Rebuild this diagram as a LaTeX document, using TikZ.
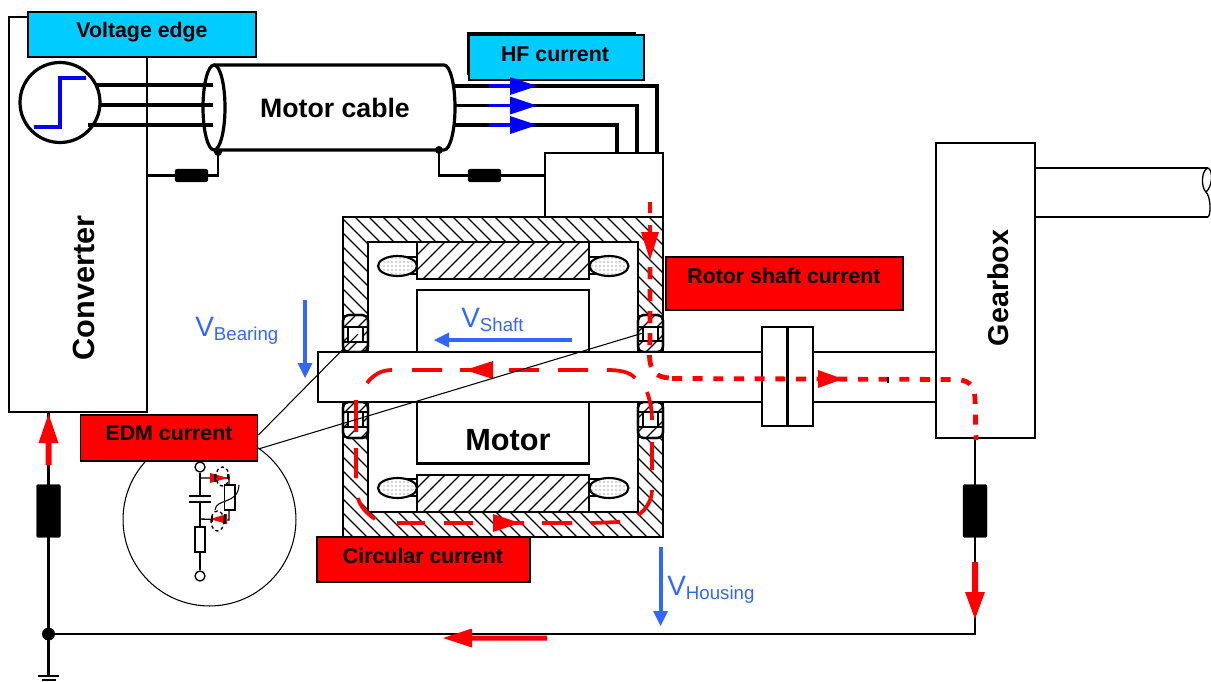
\documentclass[tikz,border=0pt]{standalone}
\usepackage{fontspec}
\setmainfont{Liberation Sans}
\usetikzlibrary{patterns,arrows.meta,calc}
\definecolor{cy}{HTML}{00CCFF}
\definecolor{vb}{HTML}{3366FF}
\newcommand{\fs}[1]{\fontsize{#1}{#1}\selectfont}
\newcommand{\vlabel}[2]{{\fs{21}V\raisebox{#1}{\fs{14}#2}}}
\tikzset{
 x=0.75pt,y=-0.75pt,
 thin box/.style={draw,line width=1.4pt,fill=white,inner sep=0pt},
 label box/.style={draw,line width=1.4pt,inner sep=0pt},
 boxtext/.style={font=\bfseries\fs{16},inner sep=0pt},
 hatchline/.style={line width=1pt},
 outline/.style={line width=1.6pt},
 wire/.style={line width=1.7pt},
 cablewire/.style={line width=2.4pt},
 res/.style={fill=black,rounded corners=1.5pt,draw=black,line width=0.3pt,inner sep=0pt},
 redwire/.style={red,line width=3.6pt},
 loopred/.style={red,line width=2.8pt},
 rotorred/.style={redwire,dash pattern=on 9pt off 7.5pt},
 dottedred/.style={redwire,dash pattern=on 7.5pt off 8pt},
 volt/.style={vb,line width=3pt},
 bigtext/.style={font=\bfseries\fs{20},inner sep=0pt},
 vtext/.style={vb,inner sep=0pt,anchor=base west},
 thinline/.style={line width=0.8pt},
}
\newcommand{\bearing}[6]{% x, top, bottom, square top, square bottom, hatch shift
 \draw[outline,fill=white,rounded corners=4pt] (#1,#2) rectangle (#1+25,#3);
 \begin{scope}
 \clip[rounded corners=4pt] (#1,#2) rectangle (#1+25,#3);
 \foreach \i in {-24,-10,...,60}{\draw[hatchline] (#1+\i+#6,#3) -- ++(36,-36);}
 \draw[hatchline] (#1,#4) -- (#1+25,#4) (#1,#5) -- (#1+25,#5);
 \end{scope}
 \draw[outline,fill=white] (#1+5,#4) rectangle (#1+20,#5);
 \draw[outline,rounded corners=4pt] (#1,#2) rectangle (#1+25,#3);
}
\begin{document}
\begin{tikzpicture}
\useasboundingbox (0,0) rectangle (1211,682);
% converter
\node[thin box,minimum width=103.5pt,minimum height=296pt] (conv) at (78,214.5) {};
\node[bigtext,font=\bfseries\fs{23},rotate=90] (convt) at (84,288) {Converter};
\node[label box,fill=cy,minimum width=171pt,minimum height=33.7pt] (ve) at (142,34.5) {};
\node[boxtext] (vet) at (142,32) {Voltage edge};
% cable
\coordinate (ct) at (214,65); \coordinate (cb) at (214,150);
\coordinate (ctr) at (444,65); \coordinate (cbr) at (444,150);
\draw[cablewire] (ct) -- (ctr) arc[start angle=90,end angle=-90,x radius=11,y radius=-42.5] (cbr) -- (cb);
\draw[cablewire,fill=white] (214,107.5) ellipse[x radius=11,y radius=42.5];
\node[bigtext] (cablet) at (335,108) {Motor cable};
% source
\node[circle,draw,line width=2.4pt,fill=white,minimum size=60pt,inner sep=0pt] (src) at (60,102.5) {};
\draw[blue,line width=2.6pt] (34,127) -- (60,127) -- (60,78) -- (86,78);
\draw[cablewire] (97,85) -- (213,85) (100,105) -- (213,105) (88,125) -- (213,125);
\draw[cablewire] (455,86) -- (657,86) -- (657,153);
\draw[cablewire] (455,105.5) -- (637,105.5) -- (637,153);
\draw[cablewire] (455,125) -- (617,125) -- (617,153);
% HF box
\draw[line width=1.2pt] (468,75) -- (468,33) -- (636,33);
\node[label box,fill=cy,minimum width=131.3pt,minimum height=33.7pt] (hf) at (556.5,57.5) {};
\node[boxtext] (hft) at (555,54) {HF current};
\foreach \y in {86,105.5,125}{
 \draw[blue,line width=2.6pt] (489,\y) -- (512,\y);
 \fill[blue] (510,\y-9) -- (537,\y) -- (510,\y+9) -- cycle;
}
% terminal box
\node[thin box,minimum width=88.5pt,minimum height=48pt] (tb) at (604,185) {};
% shield earthing
\fill (218,152) circle[radius=4]; \fill (439,150) circle[radius=4];
\coordinate (s1) at (218,175.5); \coordinate (s2) at (439,175.5);
\draw[wire] (218,152) -- (s1) -- (conv.east |- s1);
\draw[wire] (439,150) -- (s2) -- (tb.west |- s2);
\node[res,minimum width=24.5pt,minimum height=9.5pt] (r1) at (191.5,175.5) {};
\node[res,minimum width=24.5pt,minimum height=9.5pt] (r2) at (484.5,175.5) {};
% housing
\begin{scope}
\clip (343,217) rectangle (663,537);
\foreach \i in {-190,-176,...,690}{\draw[hatchline] (\i,190) -- ++(360,360);}
\end{scope}
\draw[outline,fill=white] (368,242) rectangle (638,512);
\draw[outline] (343,217) rectangle (663,537);
% windings
\foreach \cx/\cy/\n in {397.5/266/a,609/266/b,397.5/488/c,609/488/d}{
 \ifdim \cx pt<500pt
  \draw[outline] (\cx+6,\cy-9) -- (417,\cy-9) (\cx+6,\cy+8) -- (417,\cy+8);
 \else
  \draw[outline] (\cx-6,\cy-9) -- (589,\cy-9) (\cx-6,\cy+8) -- (589,\cy+8);
 \fi
 \draw[outline,fill=white] (\cx,\cy) ellipse[x radius=19.5,y radius=10];
 \fill[pattern=dots,pattern color=black!70] (\cx,\cy) ellipse[x radius=18.5,y radius=9];
}
% stators
\foreach \a/\b in {242/279,475/512}{
 \begin{scope}
 \clip (417,\a) rectangle (589,\b);
 \foreach \i in {420,435,...,660}{\draw[hatchline] (\i,\a-5) -- ++(-60,60);}
 \end{scope}
 \draw[outline] (417,\a) rectangle (589,\b);
}
% rotor
\node[draw,line width=1.6pt,fill=white,minimum width=129pt,minimum height=46.5pt,inner sep=0pt] (rotA) at (503,321) {};
\node[draw,line width=1.6pt,fill=white,minimum width=129pt,minimum height=46.5pt,inner sep=0pt] (rotB) at (503,432.5) {};
\node[bigtext,font=\bfseries\fs{23}] (motort) at (508,440) {Motor};
% bearings
\bearing{343}{315}{352}{327}{342}{0}
\bearing{638}{315}{352}{327}{341}{4}
\bearing{343}{402}{438}{412}{427}{0}
\bearing{638}{402}{438}{412}{427}{4}
% shaft
\fill[white] (318,352) rectangle (762,402);
\draw[outline] (762,352) -- (318,352) -- (318,402) -- (762,402);
\draw[outline] (813,352) -- (936,352) (813,402) -- (936,402);
\node[thin box,minimum width=18.7pt,minimum height=74.5pt] (cpa) at (774.5,376.5) {};
\node[thin box,minimum width=18.7pt,minimum height=74.5pt] (cpb) at (800.5,376.5) {};
\draw[line width=2.2pt] (787,327) -- (787,426);
% gearbox
\draw[outline] (1035,168) -- (1208,168) (1035,217) -- (1208,217);
\draw[line width=1pt] (1208,168) .. controls (1201,170) and (1201,188) .. (1206,192)
  .. controls (1211,197) and (1211,215) .. (1208,217);
\draw[line width=1pt] (1208,168) .. controls (1213,170) and (1213,186) .. (1206,192);
\node[thin box,minimum width=74.3pt,minimum height=221.3pt] (gb) at (985.5,290.5) {};
\node[bigtext,font=\bfseries\fs{21.5},rotate=90] (gbt) at (998,288) {Gearbox};
% ground wiring
\coordinate (gnd) at (48.5,634);
\coordinate (gndend) at (48.5,676);
\coordinate (gbw) at (975,634);
\draw[wire] (conv.south -| gnd) -- (gndend);
\draw[wire] (gnd) -- (gbw) -- (gb.south -| gbw);
\fill (gnd) circle[radius=6.5];
\draw[wire] (38,676) -- (59,676) (42,680) -- (56,680);
\node[res,minimum width=18pt,minimum height=39.7pt] (r3) at (48.5,511) {};
\node[res,minimum width=18pt,minimum height=39.7pt] (r4) at (975,511) {};
% ground current arrows
\fill[red] (48.5,414) -- (58.5,443) -- (51.5,443) -- (51.5,465) -- (45.5,465) -- (45.5,443) -- (38.5,443) -- cycle;
\fill[red] (975,619) -- (965,592) -- (972,592) -- (972,562) -- (978,562) -- (978,592) -- (985,592) -- cycle;
\fill[red] (443,638) -- (472,628.5) -- (472,635.5) -- (547,635.5) -- (547,640.5) -- (472,640.5) -- (472,647.5) -- cycle;
% voltages
\coordinate (vba) at (305,300); \coordinate (vbb) at (305,378);
\coordinate (vsa) at (572,340); \coordinate (vsb) at (434,340);
\coordinate (vha) at (660.5,547); \coordinate (vhb) at (660.5,626);
\draw[volt] (vba) -- ($(vbb)+(0,-12)$); \fill[vb] (vbb) -- ++(-7.5,-15) -- ++(15,0) -- cycle;
\draw[volt,line width=2.4pt] (vsa) -- ($(vsb)+(12,0)$); \fill[vb] (vsb) -- ++(15,-7.5) -- ++(0,15) -- cycle;
\draw[volt] (vha) -- ($(vhb)+(0,-12)$); \fill[vb] (vhb) -- ++(-7.5,-15) -- ++(15,0) -- cycle;
\node[vtext] (vbt) at (195,336) {\vlabel{-3pt}{Bearing}};
\node[vtext] (vst) at (461,327) {\vlabel{-3pt}{Shaft}};
\node[vtext] (vht) at (667,595) {\vlabel{-3pt}{Housing}};
% rotor shaft current
\draw[redwire] (650,202) -- (650,213);
\draw[redwire] (650,225) -- (650,235);
\fill[red] (641,232) -- (659,232) -- (650,260) -- cycle;
\draw[rotorred] (650,267) -- (650,340) .. controls (648,365) and (650,378) .. (672,378);
\draw[dottedred] (672,378.5) -- (955,379.5) .. controls (968,380) and (974,384) .. (975,398) -- (976,440);
\fill[red] (818,370) -- (843,379) -- (818,388) -- cycle;
\draw[line width=1.2pt] (888,377) -- (888,383);
% circular current
\draw[loopred]
 (367,383) .. controls (374,374) and (382,370) .. (392,370)
 (412,370) -- (442,370) (460,370) -- (480,370)
 (509,370) -- (539,370) (558,370) -- (588,370)
 (607,370) .. controls (620,370) and (630,372) .. (635,378)
 (647,392) .. controls (650,400) and (652,410) .. (652,420)
 (652,442) -- (652,470)
 (652,490) .. controls (652,500) and (646,510) .. (638,515)
 (620,522) -- (591,523) (572,523) -- (542,523) (524,523) -- (500,523)
 (473,523) -- (444,523) (425,523) -- (397,523)
 (375,519) .. controls (366,513) and (360,506) .. (358,498)
 (356,478) -- (356,448) (356,432) -- (356,400);
\fill[red] (493,361) -- (465,370) -- (493,379) -- cycle;
\fill[red] (493,514) -- (520,523) -- (493,532) -- cycle;
% detail circle
\node[circle,draw,line width=0.8pt,fill=white,minimum size=129.7pt,inner sep=0pt] (detail) at (209.5,519.5) {};
\node[circle,draw,line width=1pt,fill=white,minimum size=7.5pt,inner sep=0pt] (ta) at (200,467) {};
\node[circle,draw,line width=1pt,fill=white,minimum size=7.5pt,inner sep=0pt] (tb2) at (200,576) {};
\node[draw,line width=1pt,fill=white,minimum width=7.5pt,minimum height=18.7pt,inner sep=0pt] (rs) at (200,539.5) {};
\coordinate (cp1) at (200,496); \coordinate (cp2) at (200,502);
\coordinate (j1) at (200,478); \coordinate (j2) at (200,519);
\draw[line width=1pt] (ta) -- (cp1) (cp2) -- (rs) -- (tb2);
\draw[line width=1.3pt] (189,496) -- (211,496) (189,502) -- (211,502);
\draw[line width=1pt] (j1) -- (229,478) -- (229,520) -- (j2);
\node[draw,line width=1pt,fill=white,minimum width=8pt,minimum height=18.7pt,inner sep=0pt] (rv) at (229.5,497.5) {};
\draw[line width=0.8pt] (215,510) .. controls (216,498) and (238,505) .. (239,485);
\fill[red] (210,473) -- (228,478) -- (210,483) -- cycle;
\fill[red] (227,514) -- (210,519) -- (227,524) -- cycle;
\draw[line width=1pt] (215,474) -- (215,482) (228,474) -- (228,479) (225,514) -- (225,524) (212,516) -- (212,522);
\draw[line width=1pt,dash pattern=on 2.5pt off 2pt] (222.5,476.5) ellipse[x radius=6.5,y radius=9.5];
\draw[line width=1pt,dash pattern=on 2.5pt off 2pt] (217.5,521) ellipse[x radius=6.5,y radius=10];
% EDM leaders and red labels
\node[label box,fill=red,minimum width=132.7pt,minimum height=34.5pt] (edm) at (169,438) {};
\node[boxtext] (edmt) at (169,433) {EDM current};
\coordinate (bl) at (358,334); \coordinate (br) at (643,333);
\draw[thinline] (edm.east |- 0,435) -- (bl);
\draw[thinline] (edm.east |- 0,449) -- (br);
\node[label box,fill=red,minimum width=177.7pt,minimum height=39.7pt] (rot) at (784.5,283.5) {};
\node[boxtext] (rott) at (784,276) {Rotor shaft current};
\node[label box,fill=red,minimum width=159.7pt,minimum height=33.7pt] (circ) at (423.5,559.5) {};
\node[boxtext] (circt) at (423,556) {Circular current};
\end{tikzpicture}
\end{document}
